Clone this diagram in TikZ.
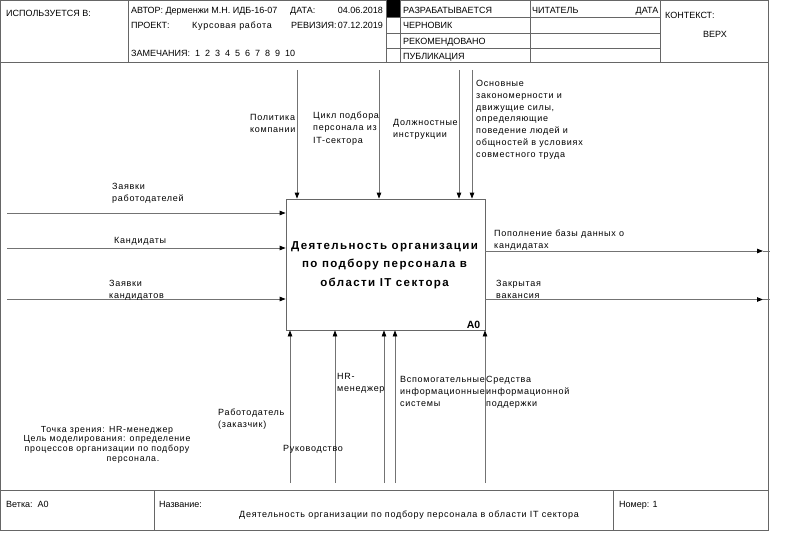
\documentclass[tikz,border=0pt]{standalone}
\usepackage{fontspec}
\setmainfont{Liberation Sans}
\newfontfamily\lblfamily[LetterSpace=8]{Liberation Sans}
\newfontfamily\ttlfamily[LetterSpace=12]{Liberation Sans}
\usetikzlibrary{arrows.meta}

\begin{document}
\begin{tikzpicture}[x=1pt,y=-1pt,
  rule/.style={draw=black!60, line width=0.8pt},
  flow/.style={draw=black!55, line width=0.8pt,
    -{Triangle[length=6pt,width=4.5pt,color=black]}},
  bare/.style={draw=black!55, line width=0.8pt},
  hdr/.style={font=\fontsize{9}{11}\selectfont, inner sep=0pt, anchor=base west},
  lbl/.style={font=\lblfamily\fontsize{9}{12}\selectfont, align=left, inner sep=0pt, anchor=base west},
  note/.style={font=\lblfamily\fontsize{8.8}{9.8}\selectfont, align=center, inner sep=0pt, anchor=base},
  activity/.style={draw=black!60, line width=0.8pt, minimum width=199pt, minimum height=131pt,
    inner sep=0pt}
]
\useasboundingbox (0,0) rectangle (799,532);

% ---------- outer frame ----------
\draw[rule] (0.5,0.5) rectangle (768,530.5);
\draw[rule] (0.5,62) -- (768,62);
\draw[rule] (0.5,490) -- (768,490);

% ---------- header ----------
\draw[rule] (128,0.5) -- (128,62);
\fill[black] (386,0.5) rectangle (400,17);
\draw[rule] (386,0.5) -- (386,62);
\draw[rule] (400,0.5) -- (400,62);
\draw[rule] (530,0.5) -- (530,62);
\draw[rule] (660,0.5) -- (660,62);
\foreach \yy in {17,33,48} \draw[rule] (386,\yy) -- (660,\yy);

\node[hdr] (usedin) at (6,17) {ИСПОЛЬЗУЕТСЯ В:};
\node[hdr] (author) at (131,14) {АВТОР: Дерменжи М.Н. ИДБ-16-07};
\node[hdr] (datelbl) at (290,14) {ДАТА:};
\node[hdr, anchor=base east] (dateval) at (383,14) {04.06.2018};
\node[hdr] (project) at (131,28.5) {ПРОЕКТ:};
\node[lbl, font=\lblfamily\fontsize{9}{11}\selectfont] (projname) at (192,29) {Курсовая работа};
\node[hdr] (revision) at (291,28.5) {РЕВИЗИЯ:};
\node[hdr, anchor=base east] (revval) at (383,28.5) {07.12.2019};
\node[hdr] (remarks) at (131,57) {ЗАМЕЧАНИЯ:\ \ 1\ \ 2\ \ 3\ \ 4\ \ 5\ \ 6\ \ 7\ \ 8\ \ 9\ \ 10};
\node[hdr] (working) at (403,14) {РАЗРАБАТЫВАЕТСЯ};
\node[hdr] (draft) at (403,29) {ЧЕРНОВИК};
\node[hdr] (recommended) at (403,44.5) {РЕКОМЕНДОВАНО};
\node[hdr] (publication) at (403,59.5) {ПУБЛИКАЦИЯ};
\node[hdr] (reader) at (532,14) {ЧИТАТЕЛЬ};
\node[hdr, anchor=base east] (readerdate) at (658.5,14) {ДАТА};
\node[hdr] (context) at (665,19) {КОНТЕКСТ:};
\node[hdr, anchor=base] (top) at (715,38) {ВЕРХ};

% ---------- activity box ----------
\node[activity] (act) at (385.5,264.5) {};
\node[align=center, inner sep=0pt, font=\ttlfamily\bfseries\fontsize{11.5}{18.5}\selectfont, anchor=base]
  (acttitle) at (384.5,286) {Деятельность организации\\по подбору персонала в\\области IT сектора};
\node[font=\bfseries\fontsize{10.5}{12}\selectfont, inner sep=0pt, anchor=base east]
  (actnum) at ([xshift=-5pt,yshift=1.5pt]act.south east) {A0};

% ---------- inputs ----------
\coordinate (in1) at (7,213);
\coordinate (in2) at (7,248);
\coordinate (in3) at (7,299);
\draw[flow] (in1) -- (in1 -| act.west);
\draw[flow] (in2) -- (in2 -| act.west);
\draw[flow] (in3) -- (in3 -| act.west);
\node[lbl] (in1lbl) at (112,201) {Заявки\\работодателей};
\node[lbl] (in2lbl) at (114,243) {Кандидаты};
\node[lbl] (in3lbl) at (109,298) {Заявки\\кандидатов};

% ---------- controls ----------
\coordinate (c1) at (297,70);
\coordinate (c2) at (379,70);
\coordinate (c3) at (459,70);
\coordinate (c4) at (472,70);
\draw[flow] (c1) -- (c1 |- act.north);
\draw[flow] (c2) -- (c2 |- act.north);
\draw[flow] (c3) -- (c3 |- act.north);
\draw[flow] (c4) -- (c4 |- act.north);
\node[lbl] (c1lbl) at (250,132) {Политика\\компании};
\node[lbl, font=\lblfamily\fontsize{9}{12.5}\selectfont] (c2lbl) at (313,143) {Цикл подбора\\персонала из\\IT-сектора};
\node[lbl] (c3lbl) at (393,137) {Должностные\\инструкции};
\node[lbl, font=\lblfamily\fontsize{9}{11.7}\selectfont] (c4lbl) at (476,157)
  {Основные\\закономерности и\\движущие силы,\\определяющие\\поведение людей и\\общностей в условиях\\совместного труда};

% ---------- outputs ----------
\coordinate (o1) at (770,251);
\coordinate (o2) at (770,299.5);
\draw[flow] (o1 -| act.east) -- ([xshift=-7pt]o1);
\draw[bare] ([xshift=-7pt]o1) -- (o1);
\draw[flow] (o2 -| act.east) -- ([xshift=-7pt]o2);
\draw[bare] ([xshift=-7pt]o2) -- (o2);
\node[lbl] (o1lbl) at (494,248) {Пополнение базы данных о\\кандидатах};
\node[lbl] (o2lbl) at (496,298) {Закрытая\\вакансия};

% ---------- mechanisms ----------
\coordinate (m1) at (290,483);
\coordinate (m2) at (335,483);
\coordinate (m3) at (384,483);
\coordinate (m4) at (395,483);
\coordinate (m5) at (485,483);
\draw[flow] (m1) -- (m1 |- act.south);
\draw[flow] (m2) -- (m2 |- act.south);
\draw[flow] (m3) -- (m3 |- act.south);
\draw[flow] (m4) -- (m4 |- act.south);
\draw[flow] (m5) -- (m5 |- act.south);
\node[lbl] (m1lbl) at (218,427) {Работодатель\\(заказчик)};
\node[lbl] (m2lbl) at (337,391) {HR-\\менеджер};
\node[lbl] (m1blbl) at (283,451) {Руководство};
\node[lbl] (m4lbl) at (400,406) {Вспомогательные\\информационные\\системы};
\node[lbl] (m5lbl) at (486,406) {Средства\\информационной\\поддержки};

% ---------- viewpoint note ----------
\node[note] (purpose) at (107,461.5) {Точка зрения: HR-менеджер\\Цель моделирования: определение\\процессов организации по подбору\\\hspace*{52pt}персонала.};

% ---------- footer ----------
\draw[rule] (154,490) -- (154,530.5);
\draw[rule] (613,490) -- (613,530.5);
\node[hdr] (node) at (6,507) {Ветка:\ \ A0};
\node[hdr] (title) at (159,507) {Название:};
\node[lbl, anchor=base] (titletext) at (409,517) {Деятельность организации по подбору персонала в области IT сектора};
\node[hdr] (number) at (619,507) {Номер: 1};
\end{tikzpicture}
\end{document}
